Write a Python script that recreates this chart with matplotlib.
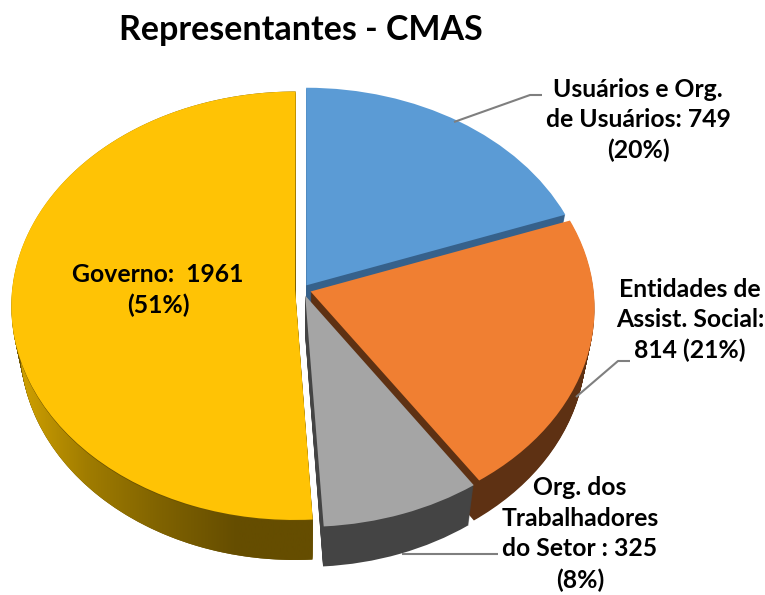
import numpy as np
import matplotlib
matplotlib.use("Agg")
import matplotlib.pyplot as plt
from matplotlib.path import Path
from matplotlib.transforms import Transform
from matplotlib.colors import LinearSegmentedColormap

categories = ["Usuários e Org.\nde Usuários:", "Entidades de\nAssist. Social:", "Org. dos\nTrabalhadores\ndo Setor :", "Governo: "]
values = [749, 814, 325, 1961]
percents = [20, 21, 8, 51]
explode = [0.024, 0.03, 0.03, 0.026]
top_colors = ["#5B9BD5", "#F07F32", "#A5A5A5", "#FFC305"]
side_colors = ["#36618B", "#5E3113", "#444444", "#6B5200"]
gradient_colors = ["#D6A500", "#A07C00", "#7F6200", "#654D00", "#654D00"]
title = "Representantes - CMAS"

plt.rcParams["font.family"] = ["Lato", "DejaVu Sans"]
CX, CY, SX, SY, K = 302.5, 289.5, 283.0, 213.0, 0.075
DEPTH, SHRINK = 40.0, 0.03


class Tilted(Transform):
    input_dims = output_dims = 2
    is_separable = False
    has_inverse = False

    def __init__(self, z=0.0):
        super().__init__()
        self.z = z

    def transform_non_affine(self, values):
        v = np.asarray(values, float)
        w = 1 + K * v[:, 1]
        px = CX + (SX * v[:, 0] / w) * (1 - SHRINK * self.z)
        py = CY - SY * v[:, 1] / w + DEPTH * self.z
        return np.column_stack([px, py])


fig = plt.figure(figsize=(7.65, 5.95), dpi=100)
ax = fig.add_axes([0, 0, 1, 1])

# extruded bodies, deepest layer first; painter order blue, orange, grey, gold
for z in np.linspace(1, 0, 41):
    colors = top_colors if z == 0 else side_colors
    wedges, _ = ax.pie(values, explode=explode, startangle=90, counterclock=False,
                       colors=colors, radius=1)
    for i, wedge in enumerate(wedges):
        wedge.set_transform(Tilted(z) + ax.transData)
        wedge.set_zorder(10 * (i + 1) + (1 - z))
        wedge.set_linewidth(0)
        wedge.set_clip_on(False)

# gradient along the visible rim of the largest slice
total = sum(values)
g_start = sum(values[:3]) / total * 2 * np.pi
g_end = 2 * np.pi
g_mid = (g_start + g_end) / 2
theta = np.linspace(g_start, g_end, 200)
rim = np.column_stack([np.sin(theta) + explode[3] * np.sin(g_mid),
                       np.cos(theta) + explode[3] * np.cos(g_mid)])
front = Tilted(0).transform_non_affine(rim)
back = Tilted(1).transform_non_affine(rim)
poly = Path(np.vstack([front, back[::-1], front[:1]]))
cmap = LinearSegmentedColormap.from_list("rim", gradient_colors)
im = ax.imshow(np.linspace(0, 1, 256)[None, :], cmap=cmap, aspect="auto",
               extent=(poly.vertices[:, 0].min(), poly.vertices[:, 0].max(),
                       poly.vertices[:, 1].max(), poly.vertices[:, 1].min()),
               zorder=40.95)
im.set_clip_path(poly, transform=ax.transData)

ax.set_xlim(0, 765)
ax.set_ylim(595, 0)
ax.set_aspect("auto")
ax.axis("off")

# leader lines
leader = dict(color="#7F7F7F", lw=1.5, zorder=70, solid_capstyle="butt")
ax.plot([454, 530, 542], [122, 95, 95], **leader)
ax.plot([576, 618, 630], [397, 361, 361], **leader)
ax.plot([402, 498], [554, 554], **leader)

# labels
fs = 17.8
style = dict(ha="center", va="center", fontsize=fs, fontweight="bold", color="black",
             linespacing=1.4, zorder=80)
ax.text(638, 120, f"{categories[0]} {values[0]}\n({percents[0]}%)", **style)
ax.text(690, 320, f"{categories[1]}\n{values[1]} ({percents[1]}%)", **style)
ax.text(580, 534, f"{categories[2]} {values[2]}\n({percents[2]}%)", **style)
ax.text(158, 290, f"{categories[3]} {values[3]}\n({percents[3]}%)", **style)
ax.text(301, 30, title, ha="center", va="center", fontsize=24.5, fontweight="bold",
        color="black", zorder=80)

fig.savefig("out.png", dpi=100)
